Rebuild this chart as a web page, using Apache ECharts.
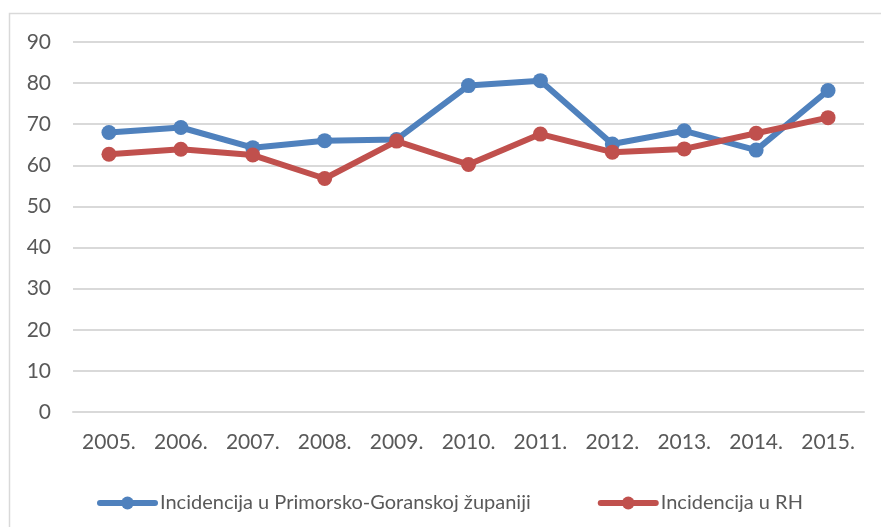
<!DOCTYPE html>
<html>
<head>
<meta charset="utf-8">
<script src="https://cdn.jsdelivr.net/npm/echarts@6/dist/echarts.min.js"></script>
<style>
  html, body { margin: 0; padding: 0; background: #fff; }
  #chart { width: 881px; height: 527px; }
</style>
</head>
<body>
<div id="chart"></div>
<script>
const years = ['2005.', '2006.', '2007.', '2008.', '2009.', '2010.', '2011.', '2012.', '2013.', '2014.', '2015.']
const pgz = [68.0, 69.2, 64.3, 66.0, 66.3, 79.4, 80.6, 65.2, 68.4, 63.7, 78.2]
const rh = [62.7, 63.9, 62.5, 56.8, 65.9, 60.2, 67.6, 63.2, 64.0, 67.8, 71.6]
const seriesNames = ['Incidencija u Primorsko-Goranskoj županiji', 'Incidencija u RH']

const chart = echarts.init(document.getElementById('chart'))
const font = 'Lato'
const option = {
  color: ['#4f81bd', '#c0504d'],
  animation: false,
  textStyle: { fontFamily: font },
  graphic: [{
    type: 'rect',
    shape: { x: 9.5, y: 13.5, width: 900, height: 600 },
    style: { fill: 'none', stroke: '#d9d9d9', lineWidth: 1.5 },
    silent: true
  }],
  grid: {
    top: 42,
    left: 73,
    right: 17,
    bottom: 115
  },
  legend: {
    left: 92,
    top: 488,
    itemWidth: 55,
    itemHeight: 16,
    itemGap: 67,
    lineStyle: { width: 6, cap: 'round' },
    textStyle: { fontFamily: font, fontSize: 20, color: '#595959' },
    data: seriesNames
  },
  xAxis: {
    type: 'category',
    data: years,
    axisLine: { lineStyle: { color: '#d9d9d9', width: 2 } },
    axisTick: { show: false },
    axisLabel: { margin: 20, fontSize: 21, color: '#595959', fontFamily: font }
  },
  yAxis: {
    type: 'value',
    min: 0,
    max: 90,
    interval: 10,
    axisLine: { show: false },
    axisTick: { show: false },
    axisLabel: { margin: 22, fontSize: 21, color: '#595959', fontFamily: font },
    splitLine: { lineStyle: { color: '#d9d9d9', width: 2 } }
  },
  series: [
    {
      name: seriesNames[0],
      type: 'line',
      data: pgz,
      symbol: 'circle',
      symbolSize: 15,
      lineStyle: { width: 6, cap: 'round' }
    },
    {
      name: seriesNames[1],
      type: 'line',
      data: rh,
      symbol: 'circle',
      symbolSize: 15,
      lineStyle: { width: 6, cap: 'round' }
    }
  ]
}
chart.setOption(option)
</script>
</body>
</html>
